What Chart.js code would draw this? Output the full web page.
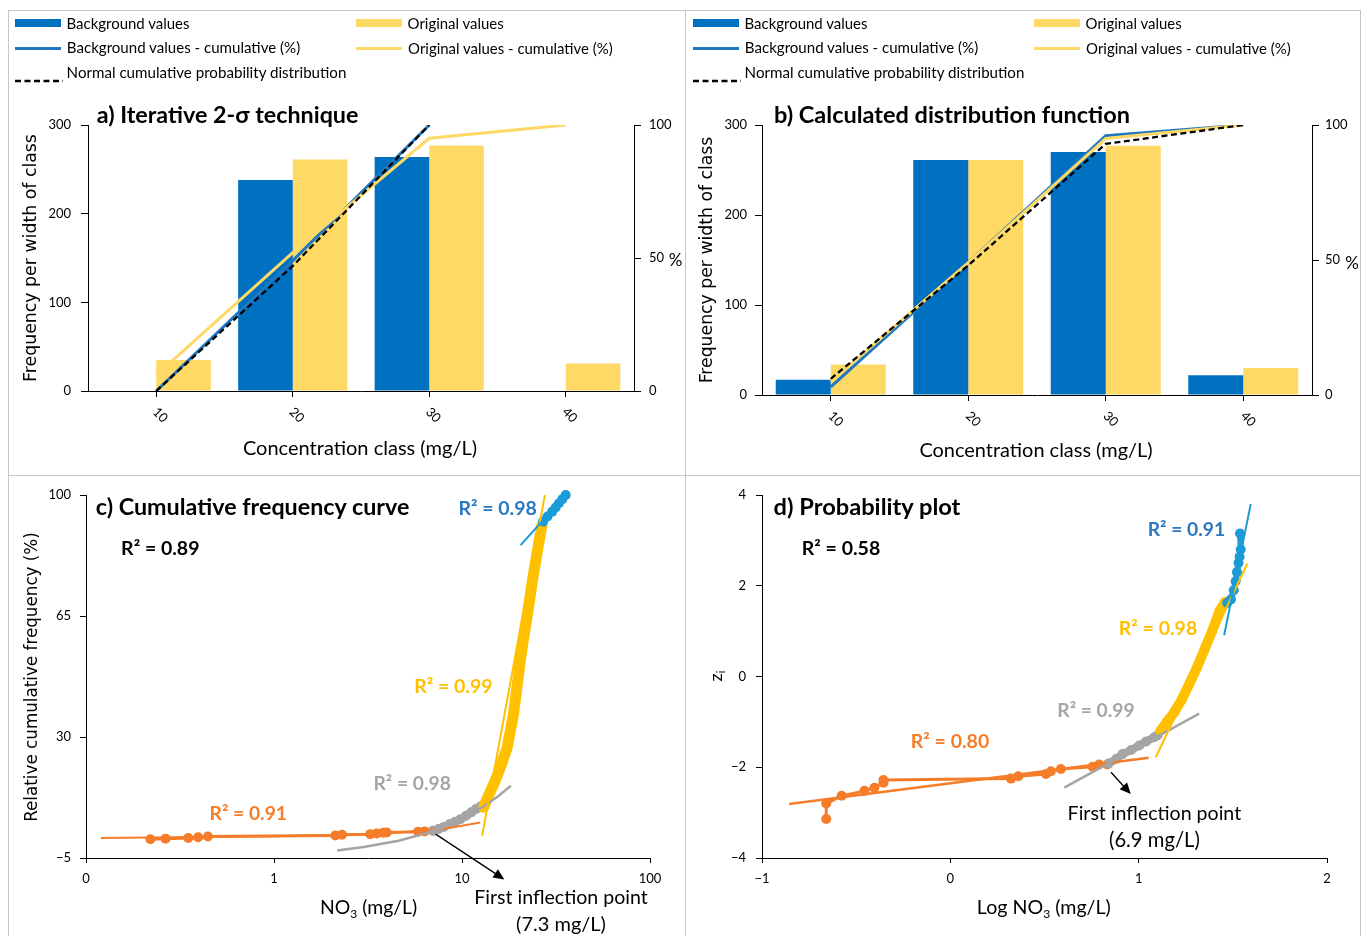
<!DOCTYPE html>
<html><head><meta charset="utf-8">
<script src="https://cdn.jsdelivr.net/npm/chart.js@4.4.1/dist/chart.umd.min.js"></script>
<style>
html,body{margin:0;padding:0;background:#fff}
#wrap{position:relative;width:1368px;height:936px;overflow:hidden;background:#fff}
canvas{position:absolute}
.ln{position:absolute;background:#c6c6c6}
.t{position:absolute;white-space:nowrap;line-height:1;font-family:Lato,'Noto Sans',sans-serif;color:#000;transform:translate(-50%,-50%)}
.t.v{transform:translate(-50%,-50%) rotate(-90deg)}
.t.b{font-weight:bold}
.t.dv{font-family:'DejaVu Sans',Verdana,sans-serif}
.sw{position:absolute}
sub{font-size:0.62em;vertical-align:-0.28em;line-height:0}
</style></head>
<body><div id="wrap">
<div class="ln" style="left:8px;top:10px;width:1353px;height:1px"></div>
<div class="ln" style="left:8px;top:475px;width:1353px;height:1px"></div>
<div class="ln" style="left:8px;top:10px;width:1px;height:926px"></div>
<div class="ln" style="left:685px;top:10px;width:1px;height:926px"></div>
<div class="ln" style="left:1360px;top:10px;width:1px;height:926px"></div>
<canvas id="ca" width="684" height="476" style="left:0;top:0"></canvas>
<canvas id="cb" width="684" height="476" style="left:684px;top:0"></canvas>
<canvas id="cc" width="684" height="460" style="left:0;top:476px"></canvas>
<canvas id="cd" width="684" height="460" style="left:684px;top:476px"></canvas>
</div>
<script>
// ---------------- DATA ----------------
const classLabels = ['10', '20', '30', '40'];
// a) Iterative 2-sigma technique
const bgFreqA   = [0, 238, 264, 0];
const origFreqA = [35, 261, 277, 31];
const bgCumA    = [0, 49, 100, null];
const origCumA  = [6, 52, 95, 100];
const normCumA  = [0, 47, 100, null];
// b) Calculated distribution function
const bgFreqB   = [17, 261, 270, 22];
const origFreqB = [34, 261, 277, 30];
const bgCumB    = [3, 49, 96, 100];
const origCumB  = [5, 49, 95, 100];
const normCumB  = [6, 48, 93, 100];
// c) Cumulative frequency curve  [NO3 mg/L, cumulative %]
const orangeC = [[0.22,0.4],[0.265,0.6],[0.35,0.8],[0.395,1.0],[0.445,1.2],[2.12,1.5],[2.30,1.7],[3.25,1.9],[3.52,2.1],[3.81,2.3],[3.98,2.4],[5.84,2.6],[6.32,2.7],[7.03,2.9]];
const grayC   = [[7.0,2.9],[7.5,3.4],[8.0,4.0],[8.6,4.8],[9.2,5.5],[9.8,6.2],[10.5,7.2],[11.2,8.2],[11.9,9.2],[12.6,10.0]];
const yellowC = [[13.0,9.5],[13.7,12.5],[15.0,17.3],[16.2,22],[17.4,27],[18.8,36.7],[19.8,46.3],[20.9,56],[22.3,65.6],[23.7,75.3],[25.4,85],[26.7,91.7]];
const blueC   = [[27.0,92.3],[28.5,93.8],[30.2,95.2],[31.5,96.4],[32.8,97.6],[34.2,98.8],[35.6,100]];
const orangeTrendC = [[0.12,0.8],[1,1.3],[3,1.9],[6,2.8],[9,3.9],[12.5,5.3]];
const grayTrendC   = [[2.17,-2.8],[3,-1.8],[4.6,0],[6,1.7],[7.5,3.4],[9,5.2],[11,7.5],[13,9.9],[15.5,12.8],[18.2,15.9]];
const yellowTrendC = [[12.8,1.4],[27.6,100]];
const blueTrendC   = [[20.5,85.5],[36,100.3]];
const xTicksC = [0.1, 1, 10, 100];
const xTickLabelsC = ['0', '1', '10', '100'];
const arrowC = {from:[7.24,1.9], to:[16.8,-11.2]};
// d) Probability plot  [log NO3, z_i]
const orangeD = [[-0.659,-3.14],[-0.659,-2.80],[-0.577,-2.63],[-0.456,-2.52],[-0.403,-2.45],[-0.355,-2.34],[-0.355,-2.28],[0.322,-2.25],[0.361,-2.20],[0.508,-2.15],[0.534,-2.09],[0.587,-2.04],[0.755,-1.99],[0.79,-1.94],[0.834,-1.94]];
const grayD   = [[0.84,-1.92],[0.88,-1.82],[0.914,-1.71],[0.96,-1.62],[1.003,-1.52],[1.04,-1.43],[1.082,-1.34],[1.10,-1.30]];
const yellowD = [[1.115,-1.20],[1.15,-1.0],[1.19,-0.78],[1.23,-0.5],[1.27,-0.15],[1.31,0.2],[1.35,0.6],[1.39,1.0],[1.43,1.45],[1.46,1.65]];
const blueD   = [[1.47,1.62],[1.49,1.70],[1.505,1.90],[1.515,2.10],[1.522,2.30],[1.53,2.50],[1.536,2.64],[1.542,2.80],[1.538,3.15]];
const orangeTrendD = [[-0.856,-2.81],[1.053,-1.79]];
const grayTrendD   = [[0.605,-2.45],[1.321,-0.82]];
const yellowTrendD = [[1.091,-1.78],[1.577,2.49]];
const blueTrendD   = [[1.454,0.91],[1.595,3.80]];
const arrowD = {from:[0.853,-2.11], to:[0.958,-2.59]};

// ---------------- STYLE ----------------
const COL = {blueBar:'#0070C0', yelBar:'#FFD966', blueLine:'#1F78C1', yelLine:'#FFD966',
  orange:'#F57D2A', gray:'#A5A5A5', yellow:'#FFC000', blue:'#1B9BD7', blueText:'#2A78C2'};

Chart.defaults.font.family = "Lato, 'Noto Sans', sans-serif";
Chart.defaults.color = '#000';
Chart.defaults.animation = false;

const minus = v => String(v).replace('-', '\u2212');

// rotated category labels (clockwise 45deg)
const rotLabels = {
  id: 'rotLabels',
  afterDraw(chart, args, opts) {
    const xs = chart.scales.x, ctx = chart.ctx;
    ctx.save();
    ctx.font = '13px Lato';
    ctx.fillStyle = '#000';
    ctx.textAlign = 'center';
    ctx.textBaseline = 'middle';
    xs.ticks.forEach((t, i) => {
      const px = xs.getPixelForTick(i);
      ctx.save();
      ctx.translate(px + opts.dx, xs.top + opts.dy);
      ctx.rotate(Math.PI / 4);
      ctx.fillText(classLabels[i], 0, 0);
      ctx.restore();
    });
    ctx.restore();
  }
};

const arrowNote = {
  id: 'arrowNote',
  afterDraw(chart, args, opts) {
    if (!opts || !opts.from) return;
    const xs = chart.scales.x, ys = chart.scales.y, ctx = chart.ctx;
    const x0 = xs.getPixelForValue(opts.from[0]), y0 = ys.getPixelForValue(opts.from[1]);
    const x1 = xs.getPixelForValue(opts.to[0]), y1 = ys.getPixelForValue(opts.to[1]);
    const a = Math.atan2(y1 - y0, x1 - x0), L = 11, W = 5;
    const c = Math.cos(a), s = Math.sin(a);
    ctx.save();
    ctx.strokeStyle = '#000'; ctx.fillStyle = '#000'; ctx.lineWidth = 1.3;
    ctx.beginPath(); ctx.moveTo(x0, y0); ctx.lineTo(x1 - L * c * 0.8, y1 - L * s * 0.8); ctx.stroke();
    ctx.beginPath(); ctx.moveTo(x1, y1);
    ctx.lineTo(x1 - L * c + W * s, y1 - L * s - W * c);
    ctx.lineTo(x1 - L * c - W * s, y1 - L * s + W * c);
    ctx.closePath(); ctx.fill();
    ctx.restore();
  }
};

function axisGrid(tl) {
  return {display:true, drawOnChartArea:false, drawTicks:true, tickLength:tl, tickColor:'#000', color:'#000', lineWidth:1};
}

function barChart(id, bg, orig, bgCum, origCum, normCum, g) {
  return new Chart(document.getElementById(id), {
    type: 'bar',
    data: {
      labels: classLabels,
      datasets: [
        {type:'line', data:normCum, yAxisID:'y1', borderColor:'#000', borderWidth:2.3, borderDash:[6,3.5], pointRadius:0, fill:false, order:0},
        {type:'line', data:origCum, yAxisID:'y1', borderColor:COL.yelLine, borderWidth:3, pointRadius:0, fill:false, order:1},
        {type:'line', data:bgCum, yAxisID:'y1', borderColor:COL.blueLine, borderWidth:3, pointRadius:0, fill:false, order:2},
        {data:bg, yAxisID:'y', backgroundColor:COL.blueBar, categoryPercentage:0.8, barPercentage:1, order:10},
        {data:orig, yAxisID:'y', backgroundColor:COL.yelBar, categoryPercentage:0.8, barPercentage:1, order:11}
      ]
    },
    options: {
      responsive:false, devicePixelRatio:1, animation:false,
      layout:{padding:{top:g.top, left:0, right:0, bottom:0}},
      plugins:{legend:{display:false}, tooltip:{enabled:false}, rotLabels:{dx:g.ldx, dy:g.ldy}},
      scales: {
        x: {offset:true, grid:Object.assign(axisGrid(6), {offset:false}), border:{display:true, color:'#000', width:1},
            ticks:{display:false}, afterFit:s => { s.height = g.xh; }},
        y: {position:'left', min:0, max:300, grid:axisGrid(7), border:{display:true, color:'#000', width:1},
            ticks:{stepSize:100, color:'#000', font:{size:13}, padding:g.ypad}, afterFit:s => { s.width = g.yw; }},
        y1: {position:'right', min:0, max:100, grid:axisGrid(7), border:{display:true, color:'#000', width:1},
            ticks:{stepSize:50, color:'#000', font:{size:13}, padding:g.y1pad}, afterFit:s => { s.width = g.y1w; }}
      }
    },
    plugins:[rotLabels]
  });
}

barChart('ca', bgFreqA, origFreqA, bgCumA, origCumA, normCumA, {top:125, xh:85, yw:88, y1w:50, ypad:10, y1pad:8, ldx:4, ldy:24});
barChart('cb', bgFreqB, origFreqB, bgCumB, origCumB, normCumB, {top:125, xh:81, yw:78, y1w:56, ypad:8, y1pad:6, ldx:5, ldy:24});

const pts = arr => arr.map(p => ({x:p[0], y:p[1]}));
function series(arr, color, r, lw, order) {
  return {data:pts(arr), showLine:true, borderColor:color, backgroundColor:color, pointBackgroundColor:color,
          pointBorderWidth:0, pointRadius:r, pointHoverRadius:r, borderWidth:lw, clip:14, order:order};
}
function trend(arr, color, lw) {
  return {data:pts(arr), showLine:true, borderColor:color, backgroundColor:color, borderWidth:lw, pointRadius:0, clip:14, order:0};
}

function scatterChart(id, datasets, xScale, yScale, g, arrow) {
  return new Chart(document.getElementById(id), {
    type:'scatter',
    data:{datasets:datasets},
    options:{
      responsive:false, devicePixelRatio:1, animation:false,
      layout:{padding:{top:g.top, left:0, right:g.right, bottom:0}},
      plugins:{legend:{display:false}, tooltip:{enabled:false}, arrowNote:arrow},
      scales:{
        x:Object.assign({grid:axisGrid(5), border:{display:true, color:'#000', width:1}, afterFit:s => { s.height = g.xh; }}, xScale),
        y:Object.assign({grid:axisGrid(6), border:{display:true, color:'#000', width:1}, afterFit:s => { s.width = g.yw; }}, yScale)
      }
    },
    plugins:[arrowNote]
  });
}

scatterChart('cc', [
    trend(blueTrendC, COL.blue, 2),
    trend(yellowTrendC, COL.yellow, 2),
    trend(grayTrendC, COL.gray, 2.5),
    trend(orangeTrendC, COL.orange, 2),
    series(blueC, COL.blue, 5, 7, 1),
    series(yellowC, COL.yellow, 5, 11, 2),
    series(grayC, COL.gray, 5, 8, 3),
    series(orangeC, COL.orange, 5, 3, 4)
  ],
  {type:'logarithmic', min:0.1, max:100,
   afterBuildTicks:s => { s.ticks = xTicksC.map(v => ({value:v})); },
   ticks:{autoSkip:false, maxRotation:0, color:'#000', font:{size:13}, padding:8, callback:(v, i) => xTickLabelsC[i]}},
  {type:'linear', min:-5, max:100, ticks:{stepSize:35, color:'#000', font:{size:13}, padding:9, callback:v => minus(v)}},
  {top:19, right:34, xh:78, yw:86}, arrowC);

scatterChart('cd', [
    trend(blueTrendD, COL.blue, 2),
    trend(yellowTrendD, COL.yellow, 2),
    trend(grayTrendD, COL.gray, 2.5),
    trend(orangeTrendD, COL.orange, 2.5),
    series(blueD, COL.blue, 5, 6, 1),
    series(yellowD, COL.yellow, 5, 10, 2),
    series(grayD, COL.gray, 5, 8, 3),
    series(orangeD, COL.orange, 5, 3, 4)
  ],
  {type:'linear', min:-1, max:2, ticks:{stepSize:1, color:'#000', font:{size:13}, padding:8, callback:v => minus(v)}},
  {type:'linear', min:-4, max:4, ticks:{stepSize:2, color:'#000', font:{size:13}, padding:10, callback:v => minus(v)}},
  {top:19, right:41, xh:78, yw:78}, arrowD);

// ---------------- TEXT & LEGENDS ----------------
const wrap = document.getElementById('wrap');
const texts = [
  // [html, cx, cy, targetWidth, classes, color, baseSize]
  ['Background values', 128, 22.5, 123, '', null, 14],
  ['Original values', 455.6, 22.5, 96, '', null, 14],
  ['Background values - cumulative (%)', 183.5, 48, 233, '', null, 14],
  ['Original values - cumulative (%)', 510.4, 48, 205, '', null, 14],
  ['Normal cumulative probability distribution', 206.5, 72.5, 280, '', null, 14],
  ['Background values', 806, 22.5, 123, '', null, 14],
  ['Original values', 1133.6, 22.5, 96, '', null, 14],
  ['Background values - cumulative (%)', 861.5, 48, 233, '', null, 14],
  ['Original values - cumulative (%)', 1188.4, 48, 205, '', null, 14],
  ['Normal cumulative probability distribution', 884.5, 72.5, 280, '', null, 14],
  ['a) Iterative 2-\u03C3 technique', 227.6, 115, 262, 'b', null, 21],
  ['b) Calculated distribution function', 952, 115, 356, 'b', null, 21],
  ['Frequency per width of class', 31, 257.5, 248, 'v dv', null, 16],
  ['Frequency per width of class', 707, 260, 247, 'v dv', null, 16],
  ['Concentration class (mg/L)', 360, 446.7, 234, '', null, 19],
  ['Concentration class (mg/L)', 1036, 450, 233, '', null, 19],
  ['%', 675.6, 259, 14, '', null, 17],
  ['%', 1352, 261.7, 14, '', null, 17],
  ['c) Cumulative frequency curve', 252.6, 506.7, 314, 'b', null, 21],
  ['d) Probability plot', 867, 506.7, 187, 'b', null, 21],
  ['Relative cumulative frequency (%)', 30.5, 677, 290, 'v dv', null, 16],
  ['NO<sub>3</sub> (mg/L)', 368.6, 907.3, 97, '', null, 18],
  ['Log NO<sub>3</sub> (mg/L)', 1043.8, 907.3, 134, '', null, 18],
  ['z<sub>i</sub>', 714.5, 676, 0, 'v', null, 18],
  ['First inflection point', 561, 897.3, 174, '', null, 18],
  ['(7.3 mg/L)', 561, 923.3, 90, '', null, 18],
  ['First inflection point', 1154.4, 813.3, 174, '', null, 18],
  ['(6.9 mg/L)', 1154.4, 839.3, 91, '', null, 18],
  ['R\u00B2 = 0.89', 160.3, 548.3, 78, 'b', '#000', 18],
  ['R\u00B2 = 0.98', 497.6, 508.3, 78, 'b', COL.blueText, 18],
  ['R\u00B2 = 0.99', 453.4, 686, 78, 'b', COL.yellow, 18],
  ['R\u00B2 = 0.98', 412.2, 783.3, 77, 'b', COL.gray, 18],
  ['R\u00B2 = 0.91', 248.3, 813.3, 77, 'b', COL.orange, 18],
  ['R\u00B2 = 0.58', 841, 548, 78, 'b', '#000', 18],
  ['R\u00B2 = 0.91', 1186.4, 529.3, 77, 'b', COL.blueText, 18],
  ['R\u00B2 = 0.98', 1158, 628.3, 78, 'b', COL.yellow, 18],
  ['R\u00B2 = 0.99', 1096, 710, 77, 'b', COL.gray, 18],
  ['R\u00B2 = 0.80', 950, 740.7, 78, 'b', COL.orange, 18]
];
const els = texts.map(([html, cx, cy, w, cls, color, size]) => {
  const d = document.createElement('div');
  d.className = 't ' + cls;
  d.innerHTML = html;
  d.style.left = cx + 'px';
  d.style.top = cy + 'px';
  d.style.fontSize = size + 'px';
  if (color) d.style.color = color;
  wrap.appendChild(d);
  return [d, w];
});
function fitTexts() {
  els.forEach(([d, w]) => {
    if (!w) return;
    for (let k = 0; k < 3; k++) {
      const cur = d.offsetWidth;
      const fs = parseFloat(d.style.fontSize);
      if (cur > 0) d.style.fontSize = (fs * w / cur).toFixed(2) + 'px';
    }
  });
}
fitTexts();
if (document.fonts && document.fonts.ready) document.fonts.ready.then(fitTexts);

// legend swatches
function sw(html, left, top) {
  const d = document.createElement('div');
  d.className = 'sw';
  d.style.left = left + 'px';
  d.style.top = top + 'px';
  d.innerHTML = html;
  wrap.appendChild(d);
}
[15, 693].forEach(ox => {
  sw('<div style="width:46px;height:8px;background:' + COL.blueBar + '"></div>', ox, 18.5);
  sw('<div style="width:46px;height:8px;background:' + COL.yelBar + '"></div>', ox + 341, 18.5);
  sw('<div style="width:46px;height:3px;background:' + COL.blueLine + '"></div>', ox, 46.5);
  sw('<div style="width:46px;height:3px;background:' + COL.yelLine + '"></div>', ox + 341, 46.5);
  sw('<svg width="48" height="6"><line x1="0" y1="3" x2="48" y2="3" stroke="#000" stroke-width="2.4" stroke-dasharray="6,3.5"/></svg>', ox, 69.5);
});
</script>
</body></html>
